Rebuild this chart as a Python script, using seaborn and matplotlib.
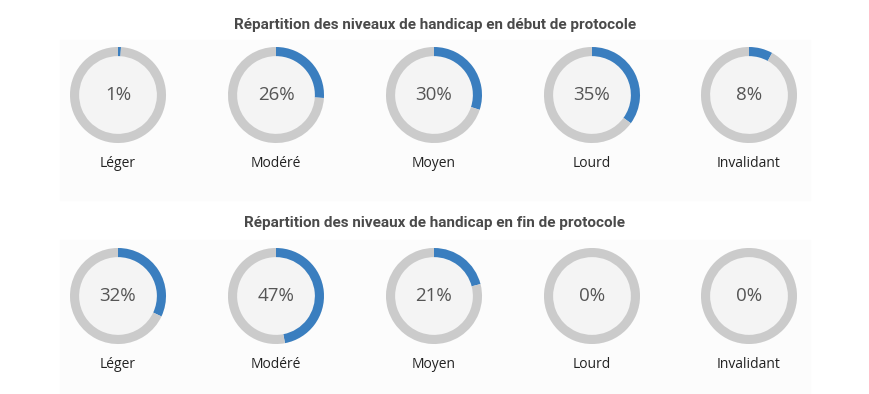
import matplotlib
matplotlib.use('Agg')
import matplotlib.pyplot as plt
import seaborn as sns

# ------------------------------------------------------------
# Data
# ------------------------------------------------------------
levels = ['Léger', 'Modéré', 'Moyen', 'Lourd', 'Invalidant']
pct_debut = [1, 26, 30, 35, 8]
pct_fin = [32, 47, 21, 0, 0]
titles = ['Répartition des niveaux de handicap en début de protocole',
          'Répartition des niveaux de handicap en fin de protocole']

sns.set_theme(style='white')
plt.rcParams['font.family'] = ['Open Sans', 'DejaVu Sans']

BLUE = '#3a7ebf'
RING = '#cbcbcb'
INNER = '#f4f4f4'
W, H = 870, 394

fig = plt.figure(figsize=(8.7, 3.94), dpi=100)
fig.patch.set_facecolor('white')

# faint panels behind each row
for top in (40, 240):
    fig.patches.append(plt.Rectangle((60 / W, 1 - (top + 160) / H), 750 / W, 160 / H,
                                     transform=fig.transFigure, color='#fcfcfc', zorder=-5))

x_centers = [118, 276, 434, 592, 749]
rows = [(pct_debut, 95, 25, 163), (pct_fin, 296, 223, 365)]
r = 48

for (values, cy, ty, ly), title in zip(rows, titles):
    fig.text(435 / W, 1 - ty / H, title, ha='center', va='center',
             fontsize=11, fontweight='bold', color='#4a4a4a', family=['Roboto', 'DejaVu Sans'])
    for cx, v, name in zip(x_centers, values, levels):
        ax = fig.add_axes([(cx - r) / W, 1 - (cy + r) / H, 2 * r / W, 2 * r / H], zorder=2)
        ax.patch.set_alpha(0)
        ax.pie([100], radius=1, colors=[INNER], wedgeprops=dict(linewidth=0))
        ax.pie([v, 100 - v], radius=1, startangle=90, counterclock=False,
               colors=[BLUE, RING], wedgeprops=dict(width=0.19, linewidth=0))
        ax.set_xlim(-1, 1)
        ax.set_ylim(-1, 1)
        ax.set_aspect('equal')
        ax.text(0, 0, f'{v}%', ha='center', va='center', fontsize=13.5, color='#555555')
        fig.text(cx / W, 1 - ly / H, name, ha='center', va='center', fontsize=10, color='#222222')

fig.savefig('out.png', dpi=100)
